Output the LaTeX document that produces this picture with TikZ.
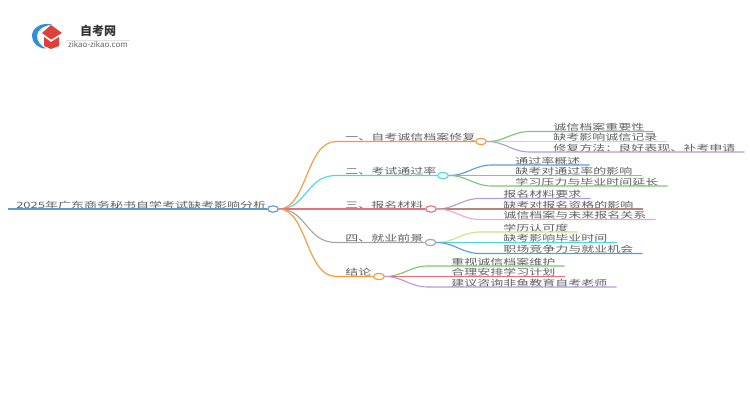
\documentclass[tikz,border=0pt]{standalone}
\usepackage{fontspec}
\usepackage{xcolor}
\usetikzlibrary{calc,shapes.geometric}
\newfontfamily\cjk[FakeStretch=1.5]{Noto Sans CJK SC}
\newfontfamily\cjklogo{Noto Sans CJK SC}
\setmainfont{Noto Sans}
\definecolor{txt}{HTML}{606060}
\definecolor{cOrange}{HTML}{F59A3C}
\definecolor{cTeal}{HTML}{4FD6E3}
\definecolor{cRed}{HTML}{E8707A}
\definecolor{cGrey}{HTML}{A5A5A5}
\definecolor{cBlue}{HTML}{5B9BD5}
\definecolor{cGreen}{HTML}{7CC576}
\definecolor{cYellow}{HTML}{DBDB8D}
\definecolor{cPurple}{HTML}{B79AD8}
\definecolor{cBrown}{HTML}{B5867E}
\definecolor{cPink}{HTML}{EFA5DC}
\definecolor{cLogo}{HTML}{E0403A}
\definecolor{cLogoBlue}{HTML}{2F8FD8}
\tikzset{
    label text/.style={anchor=south west, inner xsep=6.75pt, inner ysep=0.5pt, text depth=0pt,
        font=\cjk\fontsize{6.5pt}{8pt}\selectfont, text=txt},
    hub/.style={draw=#1, fill=white, ellipse, line width=0.85pt, minimum width=8pt, minimum height=4.8pt, inner sep=0pt},
    branch/.style={draw=#1, line width=0.85pt}
}
\begin{document}
\begin{tikzpicture}[x=0.75pt, y=-0.75pt]
    \useasboundingbox (0,0) rectangle (750,410);
    % logo
    \fill[cLogoBlue] (52,24.5) .. controls (41,22) and (32,28) .. (32,36) .. controls (32,43) and (38,48.5) .. (46,48.5) .. controls (41,46) and (37,42) .. (37,36) .. controls (37,30) and (43,26) .. (52,24.5) -- cycle;
    \fill[cLogo] (51,25) -- (62,33) -- (51,39.5) -- (42,33) -- cycle;
    \fill[cLogo] (44,37) -- (51,42) -- (59,37) -- (59,46) -- (51,49) -- (44,46) -- cycle;
    \node[inner sep=0pt, font=\cjklogo\bfseries\fontsize{9pt}{10pt}\selectfont, text=black!80] (logotitle) at (98,31) {自考网};
    \node[inner sep=0pt, font=\fontsize{6pt}{7pt}\selectfont, text=txt] (logourl) at (98,44.5) {zikao-zikao.com};
    \draw[black!12, line width=0.5pt] ($(logourl.north west)+(-2,-1)$) -- ($(logourl.north east)+(2,-1)$);

    % root
    \node[hub=cBlue] (root) at (273,209) {};
    \node[label text, inner xsep=6pt] (roottext) at (8,209) {2025年广东商务秘书自学考试缺考影响分析};
    \draw[branch=cBlue] (roottext.south west) -- (root.west);

    % first level
    \foreach \name/\xpos/\ypos/\col/\lab in {
        a/481/141.5/cOrange/一、自考诚信档案修复,
        b/443/175.5/cTeal/二、考试通过率,
        c/431/209/cRed/三、报名材料,
        d/430.5/242.5/cGrey/四、就业前景,
        e/379/276.5/cOrange/结论}
    {
        \node[hub=\col] (\name) at (\xpos,\ypos) {};
        \node[label text] (\name text) at (336,\ypos) {\lab};
        \draw[branch=\col] (root.east) .. controls +(28,0) and +(-30,0) .. (\name text.south west) -- (\name.west);
    }

    % leaves
    \foreach \hubname/\id/\xpos/\ypos/\col/\lab in {
        a/1/544/131.5/cGreen/诚信档案重要性,
        a/2/544/141.5/cYellow/缺考影响诚信记录,
        a/3/544/152/cPurple/修复方法：良好表现、补考申请,
        b/1/506/165/cBlue/通过率概述,
        b/2/506/175.5/cOrange/缺考对通过率的影响,
        b/3/506/186/cGreen/学习压力与毕业时间延长,
        c/1/494/198.5/cPurple/报名材料要求,
        c/2/494/209/cBrown/缺考对报名资格的影响,
        c/3/494/219.5/cPink/诚信档案与未来报名关系,
        d/1/494/232/cYellow/学历认可度,
        d/2/494/242.5/cTeal/缺考影响毕业时间,
        d/3/494/253.5/cBlue/职场竞争力与就业机会,
        e/1/442/266/cGreen/重视诚信档案维护,
        e/2/442/276.5/cRed/合理安排学习计划,
        e/3/442/287/cPurple/建议咨询非鱼教育自考老师}
    {
        \node[label text] (\hubname\id) at (\xpos,\ypos) {\lab};
        \draw[branch=\col] (\hubname.east) .. controls +(18,0) and +(-18,0) .. ($(\hubname\id.south west)+(-14,0)$) -- (\hubname\id.south west) -- (\hubname\id.south east);
    }
\end{tikzpicture}
\end{document}
